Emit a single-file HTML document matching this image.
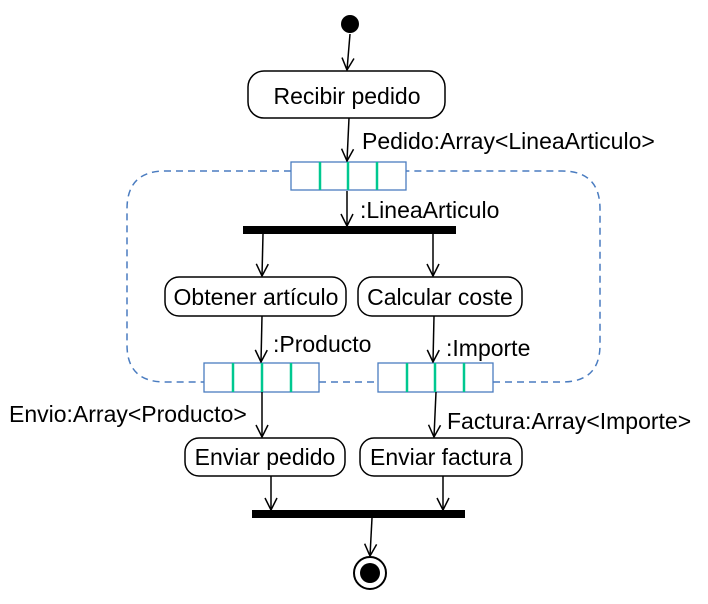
<!DOCTYPE html>
<html><head><meta charset="utf-8"><style>
html,body{margin:0;padding:0;background:#fff;}
svg{display:block;}
text{font-family:"Liberation Sans",Arial,sans-serif;font-size:23px;fill:#000;}
</style></head><body>
<svg width="708" height="604" viewBox="0 0 708 604" xmlns="http://www.w3.org/2000/svg">
<defs>
<marker id="a" markerWidth="14" markerHeight="14" refX="13" refY="7" orient="auto" markerUnits="userSpaceOnUse" viewBox="0 0 14 14">
<path d="M1,1 L13,7 L1,13" fill="none" stroke="#000" stroke-width="1.5"/>
</marker>
</defs>
<path d="M291,171 L165,171 Q127,171 127,209 L127,345 Q127,382 165,382 L204,382 M319,382 L378,382 M493,382 L562,382 Q600,382 600,345 L600,209 Q600,171 562,171 L406,171" fill="none" stroke="#4a7cc0" stroke-width="1.5" stroke-dasharray="7,5"/>
<circle cx="350" cy="24" r="9" fill="#000"/>
<circle cx="370" cy="573" r="16" fill="#fff" stroke="#000" stroke-width="2"/>
<circle cx="370" cy="573" r="10" fill="#000"/>
<rect x="243" y="226" width="213" height="8" fill="#000"/>
<rect x="252" y="510" width="213" height="8" fill="#000"/>
<g fill="#fff" stroke="#000" stroke-width="1.5">
<rect x="248" y="71" width="197" height="47" rx="16"/>
<rect x="165" y="277" width="181" height="39" rx="14"/>
<rect x="358" y="277" width="164" height="39" rx="14"/>
<rect x="185" y="438" width="160" height="38" rx="14"/>
<rect x="360" y="438" width="162" height="38" rx="14"/>
</g>
<g stroke-width="2.5" stroke="#00c890">
<rect x="291" y="162" width="115" height="28" fill="#fff" stroke="#4a7cc0" stroke-width="1.3"/>
<line x1="320" y1="162" x2="320" y2="190"/><line x1="348" y1="162" x2="348" y2="190"/><line x1="377" y1="162" x2="377" y2="190"/>
<rect x="204" y="363" width="115" height="29" fill="#fff" stroke="#4a7cc0" stroke-width="1.3"/>
<line x1="233" y1="363" x2="233" y2="392"/><line x1="262" y1="363" x2="262" y2="392"/><line x1="291" y1="363" x2="291" y2="392"/>
<rect x="378" y="363" width="115" height="29" fill="#fff" stroke="#4a7cc0" stroke-width="1.3"/>
<line x1="407" y1="363" x2="407" y2="392"/><line x1="435" y1="363" x2="435" y2="392"/><line x1="464" y1="363" x2="464" y2="392"/>
</g>
<g stroke="#000" stroke-width="1.5" fill="none" marker-end="url(#a)">
<line x1="350" y1="34" x2="347" y2="70"/>
<line x1="349" y1="118" x2="347" y2="161"/>
<line x1="347" y1="191" x2="347" y2="226"/>
<line x1="263" y1="234" x2="262" y2="276"/>
<line x1="433" y1="234" x2="433" y2="276"/>
<line x1="262" y1="316" x2="261" y2="362"/>
<line x1="434" y1="316" x2="433" y2="362"/>
<line x1="262" y1="392" x2="262" y2="437"/>
<line x1="436" y1="392" x2="434" y2="437"/>
<line x1="271" y1="476" x2="271" y2="510"/>
<line x1="443" y1="476" x2="443" y2="510"/>
<line x1="372" y1="518" x2="370" y2="556"/>
</g>
<g text-anchor="middle">
<text x="347" y="104">Recibir pedido</text>
<text x="256" y="305">Obtener artículo</text>
<text x="440" y="305">Calcular coste</text>
<text x="265" y="465">Enviar pedido</text>
<text x="441" y="465">Enviar factura</text>
</g>
<text x="362" y="149">Pedido:Array&lt;LineaArticulo&gt;</text>
<text x="360" y="218">:LineaArticulo</text>
<text x="273" y="352">:Producto</text>
<text x="446" y="356">:Importe</text>
<text x="9" y="422">Envio:Array&lt;Producto&gt;</text>
<text x="447" y="429">Factura:Array&lt;Importe&gt;</text>
</svg>
</body></html>
